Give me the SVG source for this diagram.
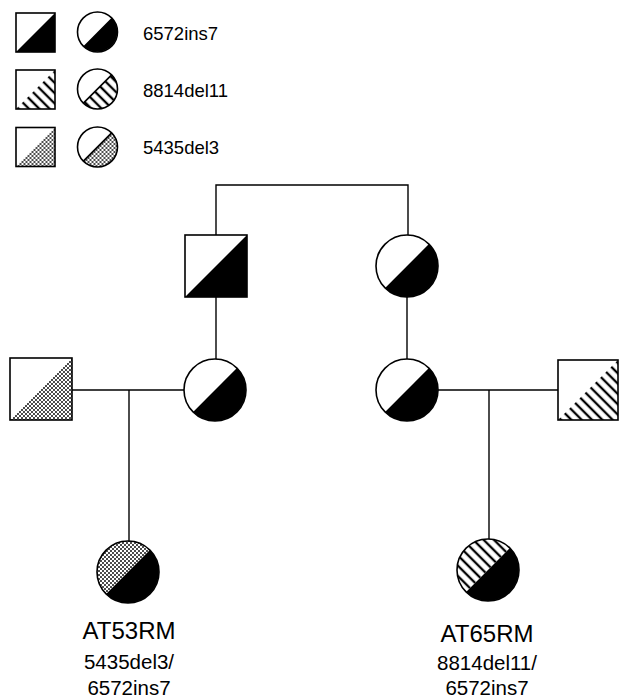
<svg xmlns="http://www.w3.org/2000/svg" width="620" height="700" viewBox="0 0 620 700">
<defs>
<pattern id="hatch" patternUnits="userSpaceOnUse" width="7.3" height="7.3" patternTransform="rotate(45)">
<rect width="7.3" height="7.3" fill="#fff"/>
<line x1="0" y1="3.65" x2="7.3" y2="3.65" stroke="#000" stroke-width="2.3"/>
</pattern>
<pattern id="dots" patternUnits="userSpaceOnUse" width="4" height="4">
<rect width="4" height="4" fill="#fff"/>
<circle cx="1" cy="1" r="0.95" fill="#000"/>
<circle cx="3" cy="3" r="0.95" fill="#000"/>
</pattern>
</defs>
<style>
.o{fill:none;stroke:#000;stroke-width:1.6}
.w{fill:#fff}
.k{fill:#000}
.h{fill:url(#hatch)}
.d{fill:url(#dots)}
.c{fill:none;stroke:#000;stroke-width:1.4}
.t{font-family:"Liberation Sans",Arial,sans-serif;fill:#000}
</style>

<g id="connectors">
<path class="c" d="M216 235 V185 H408 V235"/>
<line class="c" x1="216" y1="297" x2="216" y2="359"/>
<line class="c" x1="407" y1="297" x2="407" y2="359"/>
<line class="c" x1="72" y1="390" x2="184" y2="390"/>
<line class="c" x1="129" y1="390" x2="129" y2="541"/>
<line class="c" x1="438" y1="390" x2="558" y2="390"/>
<line class="c" x1="489" y1="390" x2="489" y2="539"/>
</g>

<g id="legend">
<g id="leg-sq-1" transform="translate(35.5,32.5)">
<rect class="w" x="-19.5" y="-19.5" width="39" height="39"/>
<path class="k" d="M-19.5 19.5 L19.5 -19.5 V19.5 Z"/>
<rect class="o" x="-19.5" y="-19.5" width="39" height="39"/>
</g>
<g id="leg-ci-1" transform="translate(97.5,32)">
<circle class="w" r="20"/>
<path class="k" d="M14.14 -14.14 A20 20 0 0 1 -14.14 14.14 Z"/>
<circle class="o" r="20"/>
</g>
<text class="t" x="143" y="40" font-size="18.5">6572ins7</text>

<g id="leg-sq-2" transform="translate(35.5,89.5)">
<rect class="w" x="-19.5" y="-19.5" width="39" height="39"/>
<path class="h" d="M-19.5 19.5 L19.5 -19.5 V19.5 Z"/>
<rect class="o" x="-19.5" y="-19.5" width="39" height="39"/>
</g>
<g id="leg-ci-2" transform="translate(97.5,89)">
<circle class="w" r="20"/>
<path class="h" d="M14.14 -14.14 A20 20 0 0 1 -14.14 14.14 Z"/>
<path class="o" d="M14.14 -14.14 L-14.14 14.14"/>
<circle class="o" r="20"/>
</g>
<text class="t" x="143" y="97" font-size="18.5">8814del11</text>

<g id="leg-sq-3" transform="translate(35.5,147)">
<rect class="w" x="-19.5" y="-19.5" width="39" height="39"/>
<path class="d" d="M-19.5 19.5 L19.5 -19.5 V19.5 Z"/>
<rect class="o" x="-19.5" y="-19.5" width="39" height="39"/>
</g>
<g id="leg-ci-3" transform="translate(97.5,147)">
<circle class="w" r="20"/>
<path class="d" d="M14.14 -14.14 A20 20 0 0 1 -14.14 14.14 Z"/>
<path class="o" d="M14.14 -14.14 L-14.14 14.14"/>
<circle class="o" r="20"/>
</g>
<text class="t" x="143" y="154" font-size="18.5">5435del3</text>
</g>

<g id="gp-father" transform="translate(216,266)">
<rect class="w" x="-31" y="-31" width="62" height="62"/>
<path class="k" d="M-31 31 L31 -31 V31 Z"/>
<rect class="o" x="-31" y="-31" width="62" height="62"/>
</g>

<g id="gp-mother" transform="translate(407,266)">
<circle class="w" r="31"/>
<path class="k" d="M21.92 -21.92 A31 31 0 0 1 -21.92 21.92 Z"/>
<circle class="o" r="31"/>
</g>

<g id="left-father" transform="translate(41,389)">
<rect class="w" x="-31" y="-31" width="62" height="62"/>
<path class="d" d="M-31 31 L31 -31 V31 Z"/>
<rect class="o" x="-31" y="-31" width="62" height="62"/>
</g>

<g id="left-mother" transform="translate(215,390)">
<circle class="w" r="31"/>
<path class="k" d="M21.92 -21.92 A31 31 0 0 1 -21.92 21.92 Z"/>
<circle class="o" r="31"/>
</g>

<g id="right-mother" transform="translate(407,390)">
<circle class="w" r="31"/>
<path class="k" d="M21.92 -21.92 A31 31 0 0 1 -21.92 21.92 Z"/>
<circle class="o" r="31"/>
</g>

<g id="right-father" transform="translate(588,390)">
<rect class="w" x="-30" y="-30" width="60" height="60"/>
<path class="h" d="M-30 30 L30 -30 V30 Z"/>
<rect class="o" x="-30" y="-30" width="60" height="60"/>
</g>

<g id="AT53RM">
<g transform="translate(128,572)">
<circle class="w" r="31"/>
<path class="d" d="M21.92 -21.92 A31 31 0 0 0 -21.92 21.92 Z"/>
<path class="k" d="M21.92 -21.92 A31 31 0 0 1 -21.92 21.92 Z"/>
<circle class="o" r="31"/>
</g>
<text class="t" x="129" y="639" font-size="24" text-anchor="middle">AT53RM</text>
<text class="t" x="129" y="669" font-size="20.5" text-anchor="middle">5435del3/</text>
<text class="t" x="129" y="695" font-size="20.5" text-anchor="middle">6572ins7</text>
</g>

<g id="AT65RM">
<g transform="translate(488,570)">
<circle class="w" r="31"/>
<path class="h" d="M21.92 -21.92 A31 31 0 0 0 -21.92 21.92 Z"/>
<path class="k" d="M21.92 -21.92 A31 31 0 0 1 -21.92 21.92 Z"/>
<circle class="o" r="31"/>
</g>
<text class="t" x="487" y="642" font-size="24" text-anchor="middle">AT65RM</text>
<text class="t" x="487" y="670" font-size="20.5" text-anchor="middle">8814del11/</text>
<text class="t" x="487" y="695" font-size="20.5" text-anchor="middle">6572ins7</text>
</g>
</svg>
